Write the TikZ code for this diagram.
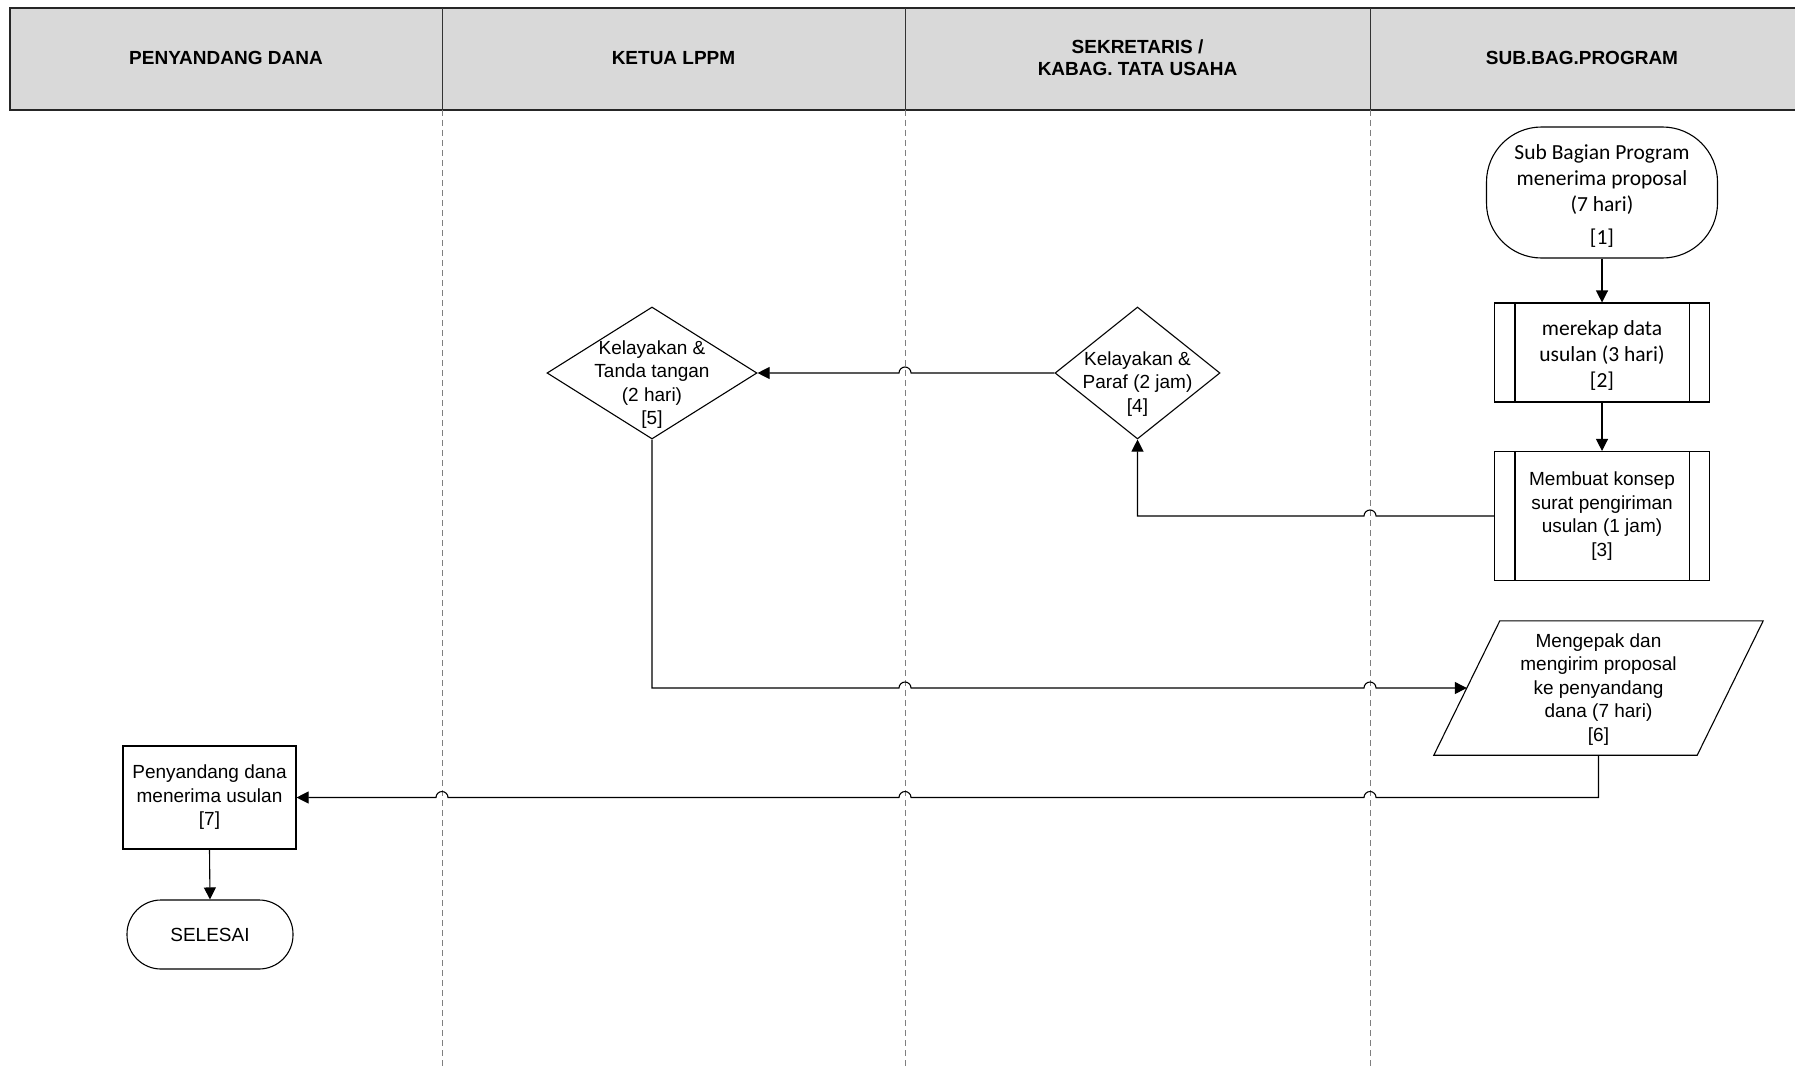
\documentclass[tikz,border=0pt]{standalone}
\usepackage{fontspec}
\setmainfont{Liberation Sans}
\newfontfamily\calfont{Carlito}
\usetikzlibrary{arrows.meta,shapes.geometric,calc}
\definecolor{hdrgray}{HTML}{D9D9D9}
\definecolor{lanegray}{HTML}{7F7F7F}
\begin{document}
\begin{tikzpicture}[x=1pt,y=-1pt,
  every node/.style={inner sep=0pt, align=center},
  txt/.style={font=\fontsize{19}{23.5}\selectfont},
  caltxt/.style={font=\calfont\fontsize{21.5}{26}\selectfont},
  hdr/.style={font=\bfseries\fontsize{19}{22}\selectfont},
  shp/.style={draw, line width=1.1pt},
  box/.style={shp, rectangle, minimum width=173, minimum height=103},
  subbox/.style={shp, rectangle, minimum width=215},
  term/.style={shp, rectangle},
  dia/.style={shp, diamond, aspect=1.25},
  parabody/.style={rectangle, minimum width=263, minimum height=134},
  flow/.style={line width=1.1pt, -{Triangle[length=12pt,width=12pt]}},
  lane/.style={lanegray, line width=1pt, dash pattern=on 6pt off 4pt},
  hline/.style={line width=1.3pt, black!85}
]
\useasboundingbox (0,0) rectangle (1795,1070);
\fill[white] (0,0) rectangle (1795,1070);

% header
\fill[hdrgray] (10,8) rectangle (1795,110);
\draw[hline] (1795,8) -- (10,8) -- (10,110) -- (1795,110);
\foreach \x in {442,905,1370}{
  \draw[line width=1pt, black!80] (\x,8) -- (\x,110);
  \draw[lane] (\x,110) -- (\x,1070);
}
\node[hdr] (h1) at (226,58) {PENYANDANG DANA};
\node[hdr] (h2) at (673.5,58) {KETUA LPPM};
\node[hdr] (h3) at (1137.5,58) {SEKRETARIS /\\KABAG. TATA USAHA};
\node[hdr] (h4) at (1582,58) {SUB.BAG.PROGRAM};

% nodes
\node[term, rounded corners=55pt, minimum width=231, minimum height=131] (n1) at (1602,192.5) {};
\node[caltxt] (t1) at (1602,196) {Sub Bagian Program\\menerima proposal\\(7 hari)\\[7pt]{[1]}};

\node[subbox, minimum height=99] (n2) at (1602,352.5) {};
\node[caltxt] (t2) at (1602,355) {merekap data\\usulan (3 hari)\\{[2]}};
\draw[line width=1.1pt] ([xshift=21pt]n2.north west) -- ([xshift=21pt]n2.south west);
\draw[line width=1.1pt] ([xshift=-21pt]n2.north east) -- ([xshift=-21pt]n2.south east);

\node[subbox, minimum height=129] (n3) at (1602,516) {};
\node[txt] (t3) at (1602,516) {Membuat konsep\\surat pengiriman\\usulan (1 jam)\\{[3]}};
\draw[line width=1.1pt] ([xshift=21pt]n3.north west) -- ([xshift=21pt]n3.south west);
\draw[line width=1.1pt] ([xshift=-21pt]n3.north east) -- ([xshift=-21pt]n3.south east);

\node[dia, minimum width=165, minimum height=132] (n4) at (1137.5,373) {};
\node[txt] (t4) at (1137.5,384) {Kelayakan \&\\Paraf (2 jam)\\{[4]}};

\node[dia, minimum width=210, minimum height=132] (n5) at (652,373) {};
\node[txt] (t5) at (652,384.5) {Kelayakan \&\\Tanda tangan\\(2 hari)\\{[5]}};

\node[parabody] (n6) at (1598.5,688) {};
\draw[shp] ([xshift=-33pt]n6.south west) -- ([xshift=-33pt]n6.south east)
  -- ([xshift=33pt]n6.north east) -- ([xshift=33pt]n6.north west) -- cycle;
\node[txt] (t6) at (1598.5,689.5) {Mengepak dan\\mengirim proposal\\ke penyandang\\dana (7 hari)\\{[6]}};

\node[box] (n7) at (209.5,797.5) {};
\node[txt] (t7) at (209.5,797.5) {Penyandang dana\\menerima usulan\\{[7]}};

\node[term, rounded corners=34pt, minimum width=166, minimum height=69] (n8) at (210,934.5) {};
\node[txt] (t8) at (210,934.5) {SELESAI};

% connectors
\draw[flow] (n1.south) -- (n2.north);
\draw[flow] (n2.south) -- (n3.north);
\draw[flow] (n3.west) -- (1376,516) arc[start angle=0,end angle=-180,radius=6]
  -- (n4.south |- n3.west) -- (n4.south);
\draw[flow] (n4.west) -- (911,373) arc[start angle=0,end angle=-180,radius=6] -- (n5.east);
\draw[flow] (n5.south) -- (n5.south |- n6.west) -- (899,688)
  arc[start angle=180,end angle=360,radius=6] -- (1364,688)
  arc[start angle=180,end angle=360,radius=6] -- (n6.west);
\draw[flow] (n6.south) -- (n6.south |- n7.east) -- (1376,797.5)
  arc[start angle=0,end angle=-180,radius=6] -- (911,797.5)
  arc[start angle=0,end angle=-180,radius=6] -- (448,797.5)
  arc[start angle=0,end angle=-180,radius=6] -- (n7.east);
\draw[flow] (n7.south) -- (n8.north);
\end{tikzpicture}
\end{document}
